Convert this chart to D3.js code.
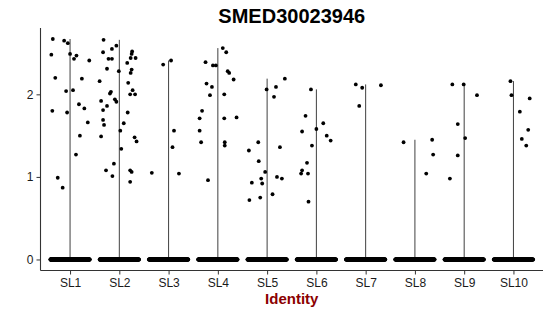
<!DOCTYPE html>
<html><head><meta charset="utf-8">
<script src="https://cdn.jsdelivr.net/npm/d3@7"></script>
<style>body{margin:0;background:#fff}svg{display:block}</style>
</head><body>
<svg id="c" width="550" height="316"></svg>
<script>
const title = "SMED30023946";
const xTitle = "Identity";
const categories = ["SL1","SL2","SL3","SL4","SL5","SL6","SL7","SL8","SL9","SL10"];
const yTicks = [0, 1, 2];
// number of cells with zero expression per identity (estimated)
const zeroCounts = [260, 240, 220, 220, 210, 200, 200, 190, 200, 180];

// non-zero expression values and horizontal jitter (fraction of category step)
const SL1 = [2.67,2.65,2.62,2.48,2.49,2.47,2.43,2.41,2.20,2.19,2.04,2.05,1.80,1.78,1.88,1.83,1.66,1.50,1.27,0.99,0.87];
const SL1_jit = [-0.35,-0.12,-0.045,-0.38,0.00,0.13,0.08,0.39,-0.30,0.24,-0.08,0.06,-0.36,-0.06,0.18,0.29,0.36,0.20,0.12,-0.25,-0.15];
const SL2 = [2.66,2.59,2.55,2.51,2.52,2.49,2.43,2.43,2.44,2.44,2.38,2.31,2.30,2.28,2.26,2.16,2.14,2.05,2.03,2.01,2.00,2.00,1.94,1.91,1.92,1.86,1.81,1.78,1.69,1.63,1.65,1.56,1.49,1.48,1.43,1.34,1.16,1.08,1.01,1.08,1.06,0.94];
const SL2_jit = [-0.32,-0.06,-0.15,-0.33,0.26,0.25,-0.22,-0.15,0.23,0.33,0.16,-0.25,0.25,-0.01,0.23,-0.40,0.18,0.27,-0.17,-0.19,0.22,0.32,-0.09,-0.06,-0.37,-0.25,-0.33,0.17,-0.33,-0.31,0.09,0.02,-0.37,0.31,0.35,0.04,-0.11,-0.27,-0.14,0.22,0.25,0.22];
const SL3 = [2.36,2.41,1.56,1.36,1.05,1.04];
const SL3_jit = [-0.11,0.05,0.11,0.08,-0.34,0.21];
const SL4 = [2.56,2.51,2.39,2.35,2.35,2.28,2.26,2.18,2.13,2.09,1.99,2.00,1.80,1.71,1.71,1.72,1.56,1.42,1.42,1.38,0.96];
const SL4_jit = [0.10,0.17,-0.25,-0.10,-0.04,0.20,0.23,0.32,-0.23,-0.12,-0.16,0.13,-0.32,-0.37,0.13,0.38,-0.37,-0.34,0.14,0.14,-0.20];
const SL5 = [2.19,2.06,2.09,1.97,1.42,1.32,1.36,1.19,1.06,0.98,1.00,0.98,0.93,0.92,0.79,0.75,0.72];
const SL5_jit = [0.36,-0.01,0.18,0.14,-0.18,-0.37,0.26,-0.17,-0.04,-0.12,0.20,0.30,-0.31,-0.10,0.11,-0.14,-0.36];
const SL6 = [2.06,1.74,1.65,1.55,1.58,1.50,1.44,1.38,1.17,1.08,1.04,1.04,0.70];
const SL6_jit = [-0.11,-0.22,0.14,-0.29,0.00,0.21,0.29,-0.09,-0.19,-0.29,-0.31,-0.17,-0.16];
const SL7 = [2.12,2.08,2.11,1.86];
const SL7_jit = [-0.20,-0.07,0.31,-0.13];
const SL8 = [1.42,1.45,1.27,1.04];
const SL8_jit = [-0.23,0.35,0.37,0.23];
const SL9 = [2.12,2.12,1.99,1.64,1.47,1.26,0.98];
const SL9_jit = [-0.24,-0.01,0.26,-0.13,0.02,-0.13,-0.29];
const SL10 = [2.16,1.99,1.95,1.79,1.57,1.46,1.38];
const SL10_jit = [-0.06,-0.04,0.33,0.13,0.30,0.17,0.26];

const groupVals = [SL1,SL2,SL3,SL4,SL5,SL6,SL7,SL8,SL9,SL10];
const groupJit = [SL1_jit,SL2_jit,SL3_jit,SL4_jit,SL5_jit,SL6_jit,SL7_jit,SL8_jit,SL9_jit,SL10_jit];

const svg = d3.select("#c");
const L = 40.5, R = 543, T = 28, B = 270.5;

const x = d3.scalePoint().domain(categories).range([L, R]).padding(0.6);
const step = x.step();
const maxV = d3.max(groupVals, g => d3.max(g));
const pad = (maxV - 0) * 0.05;
const y = d3.scaleLinear().domain([0 - pad, maxV + pad]).range([B, T]);

// violins (degenerate: thin outline from 0 to group max)
categories.forEach((c, i) => {
  const gmax = d3.max(groupVals[i]);
  svg.append("line")
    .attr("x1", x(c)).attr("x2", x(c))
    .attr("y1", y(0)).attr("y2", y(gmax))
    .attr("stroke", "#2a2a2a").attr("stroke-width", 0.9);
});

// points
const pts = [];
categories.forEach((c, i) => {
  const n = zeroCounts[i];
  for (let k = 0; k < n; k++) {
    pts.push({c, v: 0, j: -0.4 + 0.8 * k / (n - 1)});
  }
  groupVals[i].forEach((v, k) => pts.push({c, v, j: groupJit[i][k]}));
});
svg.append("g").selectAll("circle").data(pts).join("circle")
  .attr("cx", d => x(d.c) + d.j * step)
  .attr("cy", d => y(d.v))
  .attr("r", 1.9)
  .attr("fill", "#000");

// axes
const yAxis = svg.append("g").attr("transform", `translate(${L},0)`)
  .call(d3.axisLeft(y).tickValues(yTicks).tickSize(4).tickPadding(3).tickFormat(d3.format("d")));
const xAxis = svg.append("g").attr("transform", `translate(0,${B})`)
  .call(d3.axisBottom(x).tickSize(4).tickPadding(4));
[yAxis, xAxis].forEach(a => {
  a.select(".domain").attr("stroke", "#333").attr("stroke-width", 1.1);
  a.selectAll(".tick line").attr("stroke", "#333");
  a.selectAll("text").attr("fill", "#1a1a1a").attr("font-family", "Liberation Sans, Arial, sans-serif").attr("font-size", 12);
});
// extend x-axis line to meet y-axis
xAxis.select(".domain").attr("d", `M${L},0H${R}`);
yAxis.select(".domain").attr("d", `M0,${B - T + T}V${T}`).attr("transform", null);
yAxis.select(".domain").attr("d", `M0,${B}V${T}`);

svg.append("text").attr("x", (L + R) / 2).attr("y", 23)
  .attr("text-anchor", "middle").attr("font-family", "Liberation Sans, Arial, sans-serif")
  .attr("font-weight", "bold").attr("font-size", 20).attr("fill", "#000").text(title);

svg.append("text").attr("x", (L + R) / 2).attr("y", 304)
  .attr("text-anchor", "middle").attr("font-family", "Liberation Sans, Arial, sans-serif")
  .attr("font-weight", "bold").attr("font-size", 15).attr("fill", "#8B0000").text(xTitle);
</script>
</body></html>
